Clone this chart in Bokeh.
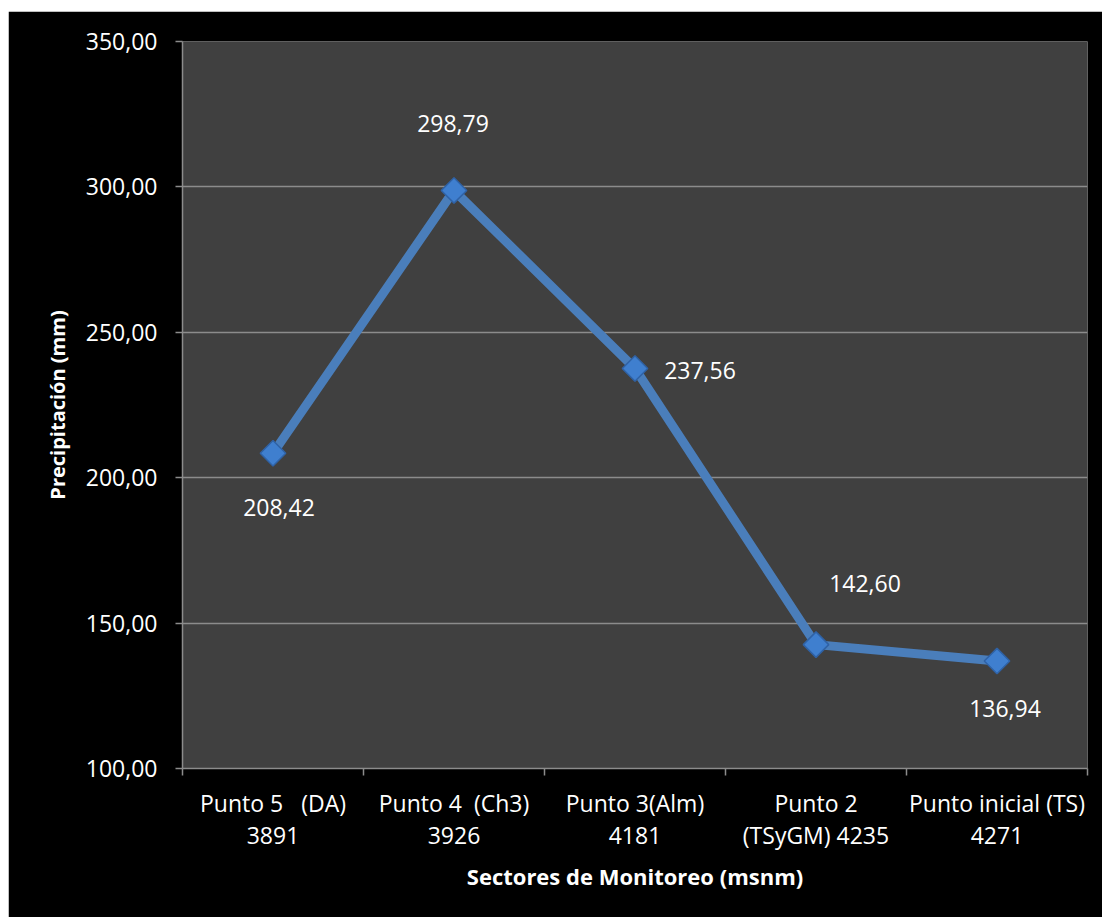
import math
from bokeh.plotting import figure
from bokeh.models import FixedTicker, Spacer, ColumnDataSource
from bokeh.layouts import column, row
from bokeh.embed import file_html
from bokeh.resources import INLINE

# ---- data ----
NB = "\u00a0"
categories = [f"Punto 5{NB}{NB} (DA)\n3891", f"Punto 4{NB} (Ch3)\n3926", "Punto 3(Alm)\n4181",
              "Punto 2\n(TSyGM) 4235", "Punto inicial (TS)\n4271"]
precip = [208.42, 298.79, 237.56, 142.60, 136.94]
y_ticks = [100, 150, 200, 250, 300, 350]

# label offsets (pixels) for data labels
lab_dx = [6, -1, 65, 49, 8]
lab_dy = [54, -67, 2, -61, 47]

FONT = "Open Sans"
n = len(categories)
xs = [i + 0.5 for i in range(n)]
labels = [f"{v:.2f}".replace(".", ",") for v in precip]

src = ColumnDataSource(dict(x=xs, y=precip, lab=labels, dx=lab_dx, dy=lab_dy))

p = figure(width=1094, height=906, x_range=(0, n), y_range=(100, 350),
           output_backend="svg", toolbar_location=None,
           min_border_left=174, min_border_top=30, min_border_right=15, min_border_bottom=149)
p.border_fill_color = "black"
p.background_fill_color = "#404040"
p.outline_line_color = None

# grid
p.xgrid.grid_line_color = None
p.ygrid.grid_line_color = "#8c8c8c"
p.ygrid.grid_line_width = 1.5

# y axis
p.yaxis.ticker = FixedTicker(ticks=y_ticks)
p.yaxis.major_label_overrides = {t: f"{t:.2f}".replace(".", ",") for t in y_ticks}
p.yaxis.axis_line_color = "#8c8c8c"
p.yaxis.axis_line_width = 1.5
p.yaxis.major_tick_line_color = "#8c8c8c"
p.yaxis.major_tick_line_width = 1.5
p.yaxis.major_tick_out = 7
p.yaxis.major_tick_in = 0
p.yaxis.minor_tick_line_color = None
p.yaxis.major_label_text_color = "white"
p.yaxis.major_label_text_font = FONT
p.yaxis.major_label_text_font_size = "23px"
p.yaxis.major_label_standoff = 18
p.yaxis.axis_label = "Precipitación (mm)"
p.yaxis.axis_label_text_color = "white"
p.yaxis.axis_label_text_font = FONT
p.yaxis.axis_label_text_font_style = "bold"
p.yaxis.axis_label_text_font_size = "20px"
p.yaxis.axis_label_standoff = 12

# x axis
p.xaxis.ticker = FixedTicker(ticks=xs, minor_ticks=list(range(n + 1)))
p.xaxis.major_label_overrides = {x: c for x, c in zip(xs, categories)}
p.xaxis.axis_line_color = "#8c8c8c"
p.xaxis.axis_line_width = 1.5
p.xaxis.major_tick_line_color = None
p.xaxis.minor_tick_line_color = "#8c8c8c"
p.xaxis.minor_tick_line_width = 1.5
p.xaxis.minor_tick_out = 7
p.xaxis.minor_tick_in = 0
p.xaxis.major_label_text_color = "white"
p.xaxis.major_label_text_font = FONT
p.xaxis.major_label_text_font_size = "23px"
p.xaxis.major_label_text_line_height = 1.0
p.xaxis.major_label_standoff = 11
p.xaxis.axis_label = "Sectores de Monitoreo (msnm)"
p.xaxis.axis_label_text_color = "white"
p.xaxis.axis_label_text_font = FONT
p.xaxis.axis_label_text_font_style = "bold"
p.xaxis.axis_label_text_font_size = "22px"
p.xaxis.axis_label_standoff = 7

# series
p.line("x", "y", source=src, line_color="#4a7ebb", line_width=9)
p.scatter("x", "y", source=src, marker="square", angle=math.pi / 4, size=18,
          fill_color="#3f7fcf", line_color="#2f62a6", line_width=1.5)
p.text("x", "y", text="lab", source=src, x_offset="dx", y_offset="dy",
       text_color="white", text_font={"value": FONT}, text_font_size="23px",
       text_align="center", text_baseline="middle")

layout = column(Spacer(height=11), row(Spacer(width=8), p))
open("out.html", "w").write(file_html(layout, INLINE))
